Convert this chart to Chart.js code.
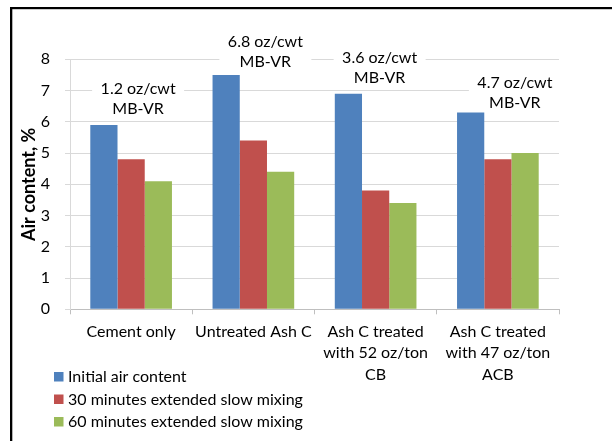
<!DOCTYPE html>
<html>
<head>
<meta charset="utf-8">
<script src="https://cdn.jsdelivr.net/npm/chart.js@4.4.1/dist/chart.umd.min.js"></script>
<style>
  html, body { margin: 0; padding: 0; background: #fff; }
  #wrap { width: 612px; height: 441px; position: relative; }
</style>
</head>
<body>
<div id="wrap"><canvas id="c" width="612" height="441"></canvas></div>
<script>
// Mixture categories (multi-line axis labels)
const categories = [
  ['Cement only'],
  ['Untreated Ash C'],
  ['Ash C treated', 'with 52 oz/ton', 'CB'],
  ['Ash C treated', 'with 47 oz/ton', 'ACB']
];

// Air content, %
const seriesNames = [
  'Initial air content',
  '30 minutes extended slow mixing',
  '60 minutes extended slow mixing'
];
const initialAir = [5.9, 7.5, 6.9, 6.3];
const air30min   = [4.8, 5.4, 3.8, 4.8];
const air60min   = [4.1, 4.4, 3.4, 5.0];

// Air-entraining admixture dosage noted above each group
const dosageNotes = [
  ['1.2 oz/cwt', 'MB-VR'],
  ['6.8 oz/cwt', 'MB-VR'],
  ['3.6 oz/cwt', 'MB-VR'],
  ['4.7 oz/cwt', 'MB-VR']
];

const yTicks = [0, 1, 2, 3, 4, 5, 6, 7, 8];

// Styling / placement
const FONT = 'Lato, "Open Sans", sans-serif';
const colors = ['#4F81BD', '#C0504D', '#9BBB59'];
const notePlacement = [   // horizontal shift from group centre (px), first-line height (axis units)
  { dx: 7,  at: 7.07 },
  { dx: 12, at: 8.57 },
  { dx: 4,  at: 8.06 },
  { dx: 17, at: 7.26 }
];

const noteBoxes = {
  id: 'noteBoxes',
  beforeDatasetsDraw(chart) {
    const { ctx, scales: { x, y } } = chart;
    ctx.save();
    ctx.font = '16px ' + FONT;
    ctx.textAlign = 'center';
    ctx.textBaseline = 'middle';
    dosageNotes.forEach((lines, i) => {
      const cx = x.getPixelForValue(i) + notePlacement[i].dx;
      const cy = y.getPixelForValue(notePlacement[i].at);
      const lh = 20.8;
      ctx.fillStyle = '#ffffff';
      ctx.fillRect(cx - 46, cy - 11, 92, lh * (lines.length - 1) + 22);
      ctx.fillStyle = '#000000';
      lines.forEach((t, k) => ctx.fillText(t, cx, cy + k * lh));
    });
    ctx.restore();
  }
};

const sideLegend = {
  id: 'sideLegend',
  afterDraw(chart) {
    const { ctx } = chart;
    ctx.save();
    ctx.font = '16px ' + FONT;
    ctx.textAlign = 'left';
    ctx.textBaseline = 'middle';
    chart.data.datasets.forEach((ds, i) => {
      const rowY = 377 + i * 22.5;
      ctx.fillStyle = ds.backgroundColor;
      ctx.fillRect(54, rowY - 5, 9.5, 9.5);
      ctx.fillStyle = '#000000';
      ctx.fillText(ds.label, 68, rowY);
    });
    ctx.restore();
  }
};

const frame = {
  id: 'frame',
  afterDraw(chart) {
    const { ctx, width, height } = chart;
    ctx.save();
    ctx.fillStyle = '#000000';
    ctx.fillRect(10, 7, width - 10, 2.2);
    ctx.fillRect(10, 7, 2.3, height - 7);
    ctx.restore();
  }
};

new Chart(document.getElementById('c'), {
  type: 'bar',
  data: {
    labels: categories,
    datasets: [initialAir, air30min, air60min].map((vals, i) => ({
      label: seriesNames[i],
      data: vals,
      backgroundColor: colors[i],
      borderWidth: 0,
      categoryPercentage: 0.668,
      barPercentage: 1.0
    }))
  },
  options: {
    responsive: false,
    animation: false,
    layout: { padding: { top: 59.3, right: 53, left: 0, bottom: 0 } },
    plugins: {
      legend: { display: false },
      tooltip: { enabled: false }
    },
    scales: {
      x: {
        grid: {
          offset: true,
          drawOnChartArea: false,
          drawTicks: true,
          tickLength: 5,
          color: '#BFBFBF'
        },
        border: { display: true, color: '#BFBFBF', width: 1 },
        ticks: {
          color: '#000000',
          font: { family: FONT, size: 16, lineHeight: '21.3px' },
          padding: 7,
          maxRotation: 0,
          autoSkip: false
        },
        afterFit(scale) { scale.height = 441 - 309.3; }
      },
      y: {
        min: 0,
        max: 8,
        afterBuildTicks(scale) { scale.ticks = yTicks.map(v => ({ value: v })); },
        grid: {
          color: '#D9D9D9',
          drawTicks: true,
          tickLength: 5
        },
        border: { display: true, color: '#D9D9D9', width: 1 },
        ticks: {
          color: '#000000',
          font: { family: FONT, size: 16 },
          padding: 15
        },
        title: {
          display: true,
          text: 'Air content, %',
          color: '#000000',
          font: { family: FONT, size: 18, weight: 'bold', lineHeight: 1.2 },
          padding: { top: 18, bottom: 0 }
        },
        afterFit(scale) { scale.width = 70; }
      }
    }
  },
  plugins: [noteBoxes, sideLegend, frame]
});
</script>
</body>
</html>
